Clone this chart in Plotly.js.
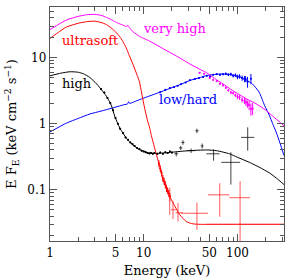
<!DOCTYPE html>
<html><head><meta charset="utf-8">
<script src="https://cdn.plot.ly/plotly-3.0.1.min.js"></script>
<style>html,body{margin:0;padding:0;background:#fff}#chart{width:291px;height:278px}</style>
</head><body><div id="chart"></div>
<script>
// ---- model curves ----
const vhE = [1,1.2,1.5,2,2.5,3,3.5,4,4.5,5,5.5,6,6.3,6.5,6.8,7.0,7.7,9,10,11.6,15,20,25,31,40,47,60,70,85,100,130,158,200,250,313];
const vhF = [26.5,31,37,42,44.5,45,43.5,40.5,37.5,34.5,32.5,31,30,29.5,30.5,28.5,24.5,21,19.5,17.7,14.4,11.5,9.6,8.0,6.6,5.86,4.6,4.0,3.3,2.85,2.3,2.0,1.6,1.22,0.93];

const usE = [1,1.2,1.5,2,2.5,3,3.5,4,4.5,5,5.5,6,6.5,7,7.7,8.5,9,9.5,10,10.5,11,11.6,12,13,14,14.8,16.1,17,18,19,20.6,24.2,28.5,33.6,40,60,100,200,313];
const usF = [19.5,23.5,29,33,35,35.5,34,31.5,28,24.5,21,17.5,14,10.8,7.8,5.4,4.3,2.9,2.0,1.45,1.1,0.85,0.68,0.44,0.3,0.225,0.142,0.115,0.095,0.078,0.063,0.042,0.033,0.0305,0.030,0.030,0.030,0.030,0.030];

const hiE = [1,1.3,1.63,2,2.26,2.66,3.14,3.4,4,4.5,4.9,5.55,6.6,7.5,8.4,10,11,14,20,30,47,60,82,100,134,170,219,260,313];
const hiF = [5.3,5.8,6.1,6.0,5.7,5.0,4.0,3.5,2.6,1.9,1.3,0.86,0.59,0.49,0.43,0.38,0.36,0.355,0.37,0.39,0.40,0.39,0.35,0.31,0.26,0.22,0.18,0.15,0.12];

const lhE = [1,1.5,2,2.66,3.5,4.6,5.5,6.3,6.7,6.9,7.1,7.5,9.7,14,18.9,25,31,40,47,60,80,105,130,144,170,194,218,237,258,285,313];
const lhF = [0.75,1.02,1.2,1.4,1.55,1.72,1.85,1.95,1.98,2.15,2.02,2.08,2.4,2.9,3.4,3.95,4.5,5.0,5.35,5.6,5.6,5.1,4.4,4.0,3.0,1.9,1.35,1.0,0.75,0.5,0.33];

// ---- data points ----
const hiPtE = [3.5,3.8,4.1,4.4,4.7,5.0,5.3,5.6,6.0,6.4,6.8,7.2,7.6,8.0,8.5,9.0,9.5,10,10.5,11,11.5,12,12.5,13,14,15,16,17,18,19,20];
const hiPtF = [3.35,2.95,2.45,2.05,1.6,1.22,1.0,0.84,0.72,0.62,0.57,0.52,0.49,0.46,0.43,0.41,0.39,0.38,0.37,0.36,0.355,0.36,0.35,0.36,0.35,0.365,0.35,0.37,0.36,0.38,0.365];

const hiXE   = [22.2,24.8,26.2,32,36.9,42,55.6,85,128.5];
const hiXF   = [0.35,0.43,0.52,0.39,0.78,0.46,0.35,0.26,0.62];
const hiXElo = [21.2,23.8,25.2,29,35.5,40.5,46.5,67.2,109];
const hiXEhi = [23.3,25.8,27.2,35,38.5,43.5,64.5,106.6,151];
const hiXFlo = [0.32,0.40,0.48,0.36,0.72,0.42,0.275,0.12,0.39];
const hiXFhi = [0.38,0.46,0.56,0.42,0.84,0.50,0.41,0.37,0.88];

const usPtE = [14.5,15,15.5,16,16.5,17,17.5,18,18.5,19];
const usPtF = [0.25,0.21,0.18,0.15,0.135,0.12,0.105,0.097,0.088,0.08];

const usXE   = [18.9,20.5,23.2,36.9,64.5,106.6,120];
const usXF   = [0.068,0.050,0.045,0.044,0.084,0.076,0.030];
const usXElo = [18.5,19.6,21.9,25.1,48.3,82,46.5];
const usXEhi = [19.3,22,26.1,48.3,82,136,313];
const usXFlo = [0.042,0.036,0.033,0.0248,0.039,0.012,0.030];
const usXFhi = [0.107,0.068,0.063,0.064,0.126,0.134,0.030];

const vhPtE   = [39.4,44,50.5,55,60,65,70,75,80,85,90,95,100,105,112,118.6,123,128,133,139,145];
const vhPtF   = [5.9,5.7,4.9,4.6,4.4,4.0,3.8,3.5,3.2,2.97,2.9,2.7,2.55,2.5,2.3,2.23,2.1,1.99,1.9,1.67,1.7];
const vhPtErr = [0.12,0.12,0.12,0.12,0.12,0.12,0.15,0.15,0.15,0.15,0.15,0.15,0.2,0.2,0.2,0.25,0.25,0.25,0.3,0.35,0.35];

const lhPtE   = [15,17,19,21,23,25,28,31,35,39,43,47,51,55,60,65,70,75,80,85,90,95,100,105,112,118.6,122,128,139];
const lhPtF   = [3.0,3.25,3.45,3.6,3.75,3.95,4.2,4.55,4.75,4.9,5.1,5.3,5.15,5.5,5.6,5.5,5.6,5.7,5.5,5.6,5.3,5.4,5.1,5.2,4.9,4.75,4.75,4.3,4.8];
const lhPtErr = [0.05,0.05,0.05,0.06,0.06,0.07,0.07,0.08,0.08,0.1,0.1,0.12,0.12,0.15,0.15,0.2,0.2,0.25,0.25,0.3,0.3,0.35,0.4,0.4,0.45,0.5,0.5,0.8,0.85];

// ---- tick labels ----
const xTickVals = [1,5,10,50,100];
const xTickText = ['1','5','10','50','100'];
const xMinor = [2,3,4,6,7,8,9,20,30,40,60,70,80,90,200,300];
const yTickVals = [0.1,1,10];
const yTickText = ['0.1','1','10'];
const yMinor = [0.02,0.03,0.04,0.05,0.06,0.07,0.08,0.09,0.2,0.3,0.4,0.5,0.6,0.7,0.8,0.9,2,3,4,5,6,7,8,9,20,30,40,50];

const C = {vh:'#ff00ff', us:'#ff0000', hi:'#000000', lh:'#0000ff'};

function line(x,y,color){
  return {x:x,y:y,mode:'lines',type:'scatter',line:{color:color,width:1,shape:'spline',smoothing:0.6},hoverinfo:'skip',showlegend:false};
}
function dense(x,y,color,pct){
  return {x:x,y:y,mode:'markers',type:'scatter',marker:{color:color,size:2},
    error_y:{type:'percent',value:pct,color:color,thickness:1,width:0},
    error_x:{type:'percent',value:2,color:color,thickness:1,width:0},showlegend:false,hoverinfo:'skip'};
}
function errPts(x,y,err,color){
  return {x:x,y:y,mode:'markers',type:'scatter',marker:{color:color,size:2},
    error_y:{type:'data',array:err,color:color,thickness:1,width:0},
    error_x:{type:'percent',value:2,color:color,thickness:1,width:0},showlegend:false,hoverinfo:'skip'};
}
function crosses(E,F,Elo,Ehi,Flo,Fhi,color,w){
  return {x:E,y:F,mode:'markers',type:'scatter',marker:{color:color,size:1,opacity:0},
    error_x:{type:'data',symmetric:false,array:E.map((v,i)=>Ehi[i]-v),arrayminus:E.map((v,i)=>v-Elo[i]),color:color,thickness:w,width:0},
    error_y:{type:'data',symmetric:false,array:F.map((v,i)=>Fhi[i]-v),arrayminus:F.map((v,i)=>v-Flo[i]),color:color,thickness:w,width:0},
    showlegend:false,hoverinfo:'skip'};
}

const traces = [
  line(lhE,lhF,C.lh),
  line(hiE,hiF,C.hi),
  line(usE,usF,C.us),
  line(vhE,vhF,C.vh),
  errPts(lhPtE,lhPtF,lhPtErr,C.lh),
  errPts(vhPtE,vhPtF,vhPtErr,C.vh),
  dense(hiPtE,hiPtF,C.hi,3),
  crosses(hiXE,hiXF,hiXElo,hiXEhi,hiXFlo,hiXFhi,'rgba(0,0,0,0.75)',1),
  dense(usPtE,usPtF,C.us,12),
  crosses(usXE,usXF,usXElo,usXEhi,usXFlo,usXFhi,'rgba(255,40,40,0.6)',1.3)
];

const F = 'DejaVu Serif';
const axisCommon = {type:'log',showgrid:false,zeroline:false,showline:true,linecolor:'#555',linewidth:1.2,
  mirror:'allticks',ticks:'inside',ticklen:7,tickwidth:1,tickcolor:'#555',tickmode:'array',
  tickfont:{family:F,size:12,color:'#000'}};

const layout = {
  width:291,height:278,
  margin:{l:50,r:7,t:7,b:37},
  paper_bgcolor:'#fff',plot_bgcolor:'#fff',
  showlegend:false,
  font:{family:F,color:'#000'},
  xaxis:Object.assign({},axisCommon,{range:[0,2.496],tickvals:xTickVals,ticktext:xTickText,
    minor:{tickvals:xMinor,ticklen:4,tickwidth:1,tickcolor:'#555',ticks:'inside'},
    title:{text:'Energy (keV)',font:{family:F,size:13,color:'#000'},standoff:7}}),
  yaxis:Object.assign({},axisCommon,{range:[-1.775,1.765],tickvals:yTickVals,ticktext:yTickText,
    minor:{tickvals:yMinor,ticklen:4,tickwidth:1,tickcolor:'#555',ticks:'inside'},
    title:{text:'E F<sub>E</sub> (keV cm<sup>−2</sup> s<sup>−1</sup>)',font:{family:F,size:13,color:'#000'},standoff:7}}),
  annotations:[
    {text:'very high',xref:'paper',yref:'paper',x:0.534,y:0.906,showarrow:false,xanchor:'center',yanchor:'middle',font:{family:F,size:13,color:C.vh}},
    {text:'ultrasoft',xref:'paper',yref:'paper',x:0.175,y:0.855,showarrow:false,xanchor:'center',yanchor:'middle',font:{family:F,size:13,color:C.us}},
    {text:'high',xref:'paper',yref:'paper',x:0.115,y:0.675,showarrow:false,xanchor:'center',yanchor:'middle',font:{family:F,size:13,color:C.hi}},
    {text:'low/hard',xref:'paper',yref:'paper',x:0.590,y:0.603,showarrow:false,xanchor:'center',yanchor:'middle',font:{family:F,size:13,color:C.lh}}
  ]
};

Plotly.newPlot('chart',traces,layout,{staticPlot:true,displayModeBar:false});
</script></body></html>
